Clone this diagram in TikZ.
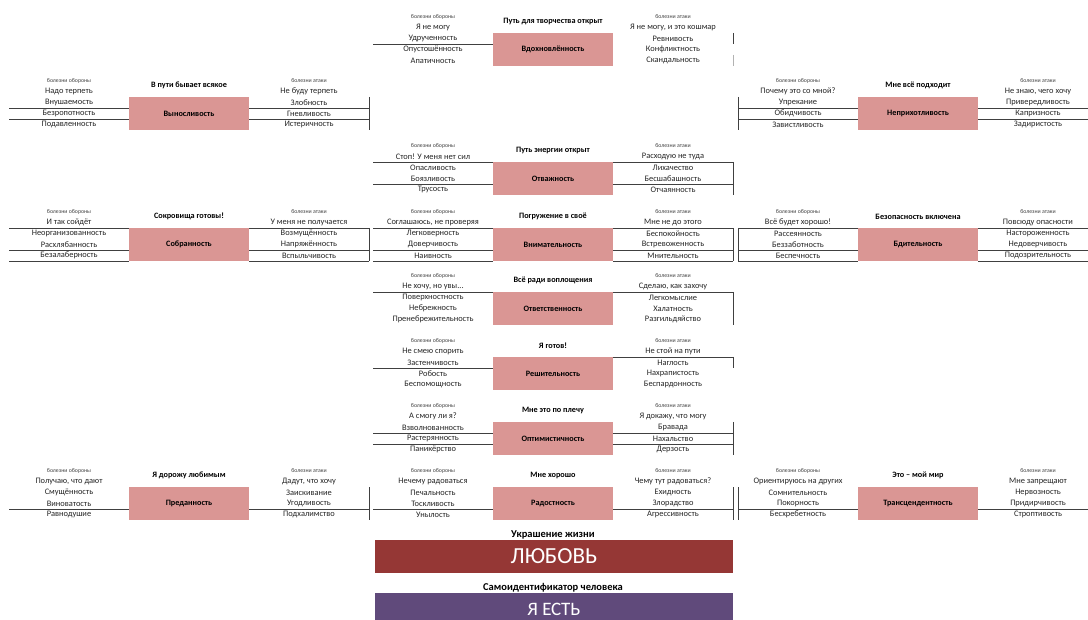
\documentclass[tikz,border=0pt]{standalone}
\usepackage{fontspec}
\setmainfont{Carlito}
\definecolor{boxpink}{HTML}{DA9694}
\definecolor{lovered}{HTML}{953735}
\definecolor{estpurple}{HTML}{604A7B}
\tikzset{
  x=1pt, y=-1pt,
  grid/.style={draw=black!75, line width=0.5pt},
  lgrid/.style={draw=black!30, line width=0.5pt},
  cell/.style={font=\fontsize{8.4}{9}\selectfont, text=black!85, inner sep=0pt},
  small/.style={font=\fontsize{5.8}{6}\selectfont, text=black!75, inner sep=0pt},
  ttl/.style={font=\bfseries\fontsize{8.2}{9}\selectfont, inner sep=0pt},
  vbox/.style={fill=boxpink, minimum width=120pt, minimum height=33pt, inner sep=0pt, font=\bfseries\fontsize{8.2}{9}\selectfont},
  bigbox/.style={minimum width=358pt, minimum height=33pt, inner sep=0pt, text=white, font=\fontsize{23}{26}\selectfont},
}
\newcommand\Block[4]{\def\bx{#1}\def\bT{#2}\def\bid{#3}%
  \node[ttl] (#3-t) at (#1+180,#2-11.5) {#4};}
\newcommand\Heads[2]{%
  \node[small] (\bid-sl) at (\bx+60,\bT-16) {болезни обороны};
  \node[cell] (\bid-hl) at (\bx+60,\bT-5.5) {#1};
  \node[small] (\bid-sr) at (\bx+300,\bT-16) {болезни атаки};
  \node[cell] (\bid-hr) at (\bx+300,\bT-5.5) {#2};}
\newcommand\Rows[7]{%
  \node[vbox] (\bid-box) at (\bx+180,\bT+16.5) {#4};
  \node[cell] (\bid-l1) at (\bx+60,\bT+5.5) {#1};
  \node[cell] (\bid-l2) at (\bx+60,\bT+16.5) {#2};
  \node[cell] (\bid-l3) at (\bx+60,\bT+27.5) {#3};
  \node[cell] (\bid-r1) at (\bx+300,\bT+5.5) {#5};
  \node[cell] (\bid-r2) at (\bx+300,\bT+16.5) {#6};
  \node[cell] (\bid-r3) at (\bx+300,\bT+27.5) {#7};}
\newcommand\GridH[2]{\draw[grid] (\bx+#1,\bT+11*#2) -- (\bx+#1+120,\bT+11*#2);}
\newcommand\GridV[3]{\draw[grid] (\bx+#1,\bT+11*#2) -- (\bx+#1,\bT+11*#3);}
\begin{document}
\begin{tikzpicture}
\useasboundingbox (0,0) rectangle (1088,620);
\clip (0,0) rectangle (1088,620);
\fill[white] (0,0) rectangle (1088,620);

% Row 1
\Block{373}{33}{vd}{Путь для творчества открыт}
\GridH{0}{1} \GridV{360}{0}{1}
\draw[lgrid] (\bx+360,\bT+22) -- (\bx+360,\bT+33);
\Heads{Я не могу}{Я не могу, и это кошмар}
\Rows{Удрученность}{Опустошённость}{Апатичность}{Вдохновлённость}{Ревнивость}{Конфликтность}{Скандальность}

% Row 2 left
\Block{9}{97}{vy}{В пути бывает всякое}
\GridH{0}{1} \GridH{0}{2} \GridH{240}{1} \GridH{240}{2} \GridV{360}{0}{3}
\Heads{Надо терпеть}{Не буду терпеть}
\Rows{Внушаемость}{Безропотность}{Подавленность}{Выносливость}{Злобность}{Гневливость}{Истеричность}

% Row 2 right
\Block{738}{97}{ne}{Мне всё подходит}
\GridV{0}{0}{3} \GridH{0}{1} \GridH{0}{2} \GridH{240}{1} \GridH{240}{2}
\Heads{Почему это со мной?}{Не знаю, чего хочу}
\Rows{Упрекание}{Обидчивость}{Завистливость}{Неприхотливость}{Привередливость}{Капризность}{Задиристость}

% Row 3
\Block{373}{162}{ot}{Путь энергии открыт}
\GridH{0}{0} \GridH{0}{2} \GridH{240}{0} \GridH{240}{2} \GridV{360}{0}{3}
\Heads{Стоп! У меня нет сил}{Расходую не туда}
\Rows{Опасливость}{Боязливость}{Трусость}{Отважность}{Лихачество}{Бесшабашность}{Отчаянность}

% Row 4 left
\Block{9}{228}{so}{Сокровища готовы!}
\GridH{0}{0} \GridH{0}{2} \GridH{0}{3} \GridH{240}{0} \GridH{240}{2} \GridH{240}{3} \GridV{360}{0}{3}
\Heads{И так сойдёт}{У меня не получается}
\Rows{Неорганизованность}{Расхлябанность}{Безалаберность}{Собранность}{Возмущённость}{Напряжённость}{Вспыльчивость}

% Row 4 center
\Block{373}{228}{vn}{Погружение в своё}
\GridH{0}{0} \GridH{0}{2} \GridH{0}{3} \GridH{240}{0} \GridH{240}{2} \GridH{240}{3} \GridV{360}{0}{3}
\Heads{Соглашаюсь, не проверяя}{Мне не до этого}
\Rows{Легковерность}{Доверчивость}{Наивность}{Внимательность}{Беспокойность}{Встревоженность}{Мнительность}

% Row 4 right
\Block{738}{228}{bd}{Безопасность включена}
\GridV{0}{0}{3} \GridH{0}{0} \GridH{0}{2} \GridH{0}{3} \GridH{240}{0} \GridH{240}{2} \GridH{240}{3}
\Heads{Всё будет хорошо!}{Повсюду опасности}
\Rows{Рассеянность}{Беззаботность}{Беспечность}{Бдительность}{Настороженность}{Недоверчивость}{Подозрительность}

% Row 5
\Block{373}{292}{ov}{Всё ради воплощения}
\GridH{0}{0} \GridH{240}{0} \GridV{360}{0}{3}
\Heads{Не хочу, но увы...}{Сделаю, как захочу}
\Rows{Поверхностность}{Небрежность}{Пренебрежительность}{Ответственность}{Легкомыслие}{Халатность}{Разгильдяйство}

% Row 6
\Block{373}{357}{re}{Я готов!}
\GridH{0}{1} \GridH{240}{0} \GridV{360}{0}{1}
\Heads{Не смею спорить}{Не стой на пути}
\Rows{Застенчивость}{Робость}{Беспомощность}{Решительность}{Наглость}{Нахрапистость}{Беспардонность}

% Row 7
\Block{373}{422}{op}{Мне это по плечу}
\GridH{0}{1} \GridH{0}{2} \GridH{240}{1} \GridH{240}{2} \GridV{360}{0}{3}
\Heads{А смогу ли я?}{Я докажу, что могу}
\Rows{Взволнованность}{Растерянность}{Паникёрство}{Оптимистичность}{Бравада}{Нахальство}{Дерзость}

% Row 8 left
\Block{9}{487}{pr}{Я дорожу любимым}
\GridH{0}{2} \GridH{240}{2} \GridV{360}{0}{3}
\Heads{Получаю, что дают}{Дадут, что хочу}
\Rows{Смущённость}{Виноватость}{Равнодушие}{Преданность}{Заискивание}{Угодливость}{Подхалимство}

% Row 8 center
\Block{373}{487}{ra}{Мне хорошо}
\GridH{0}{2} \GridH{240}{2} \GridV{360}{0}{3}
\Heads{Нечему радоваться}{Чему тут радоваться?}
\Rows{Печальность}{Тоскливость}{Унылость}{Радостность}{Ехидность}{Злорадство}{Агрессивность}

% Row 8 right
\Block{738}{487}{tr}{Это – мой мир}
\GridV{0}{0}{3} \GridH{0}{2} \GridH{240}{2}
\Heads{Ориентируюсь на других}{Мне запрещают}
\Rows{Сомнительность}{Покорность}{Бесхребетность}{Трансцендентность}{Нервозность}{Придирчивость}{Строптивость}

% Bottom
\node[ttl, font=\bfseries\fontsize{10.5}{11}\selectfont] (ukr) at (553,534.5) {Украшение жизни};
\node[bigbox, fill=lovered] (love) at (554,556.5) {ЛЮБОВЬ};
\node[ttl, font=\bfseries\fontsize{10.5}{11}\selectfont] (samo) at (553,587.5) {Самоидентификатор человека};
\fill[estpurple] (375,593) rectangle (733,630);
\node[text=white, font=\fontsize{19}{22}\selectfont, inner sep=0pt] (est) at (554,609.5) {Я ЕСТЬ};
\end{tikzpicture}
\end{document}
